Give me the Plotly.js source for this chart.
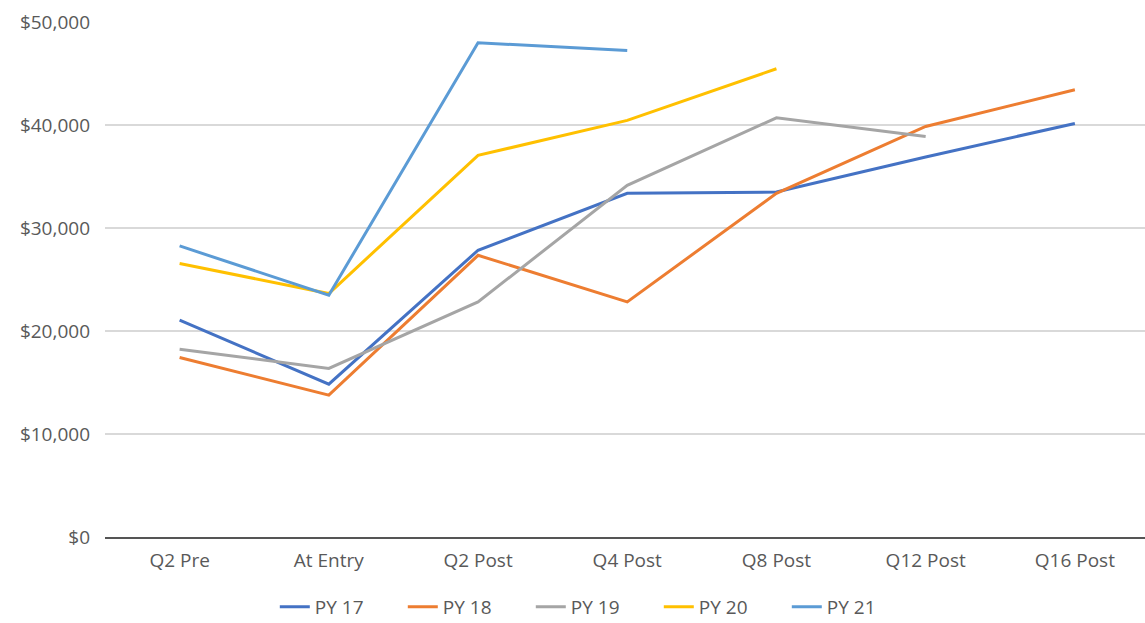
<!DOCTYPE html>
<html>
<head>
<meta charset="utf-8">
<script src="https://cdn.plot.ly/plotly-3.0.1.min.js"></script>
<style>html,body{margin:0;padding:0;background:#fff;}#chart{width:1145px;height:623px;}</style>
</head>
<body>
<div id="chart"></div>
<script>
const categories = ["Q2 Pre", "At Entry", "Q2 Post", "Q4 Post", "Q8 Post", "Q12 Post", "Q16 Post"];
const seriesNames = ["PY 17", "PY 18", "PY 19", "PY 20", "PY 21"];
const py17 = [21050, 14840, 27840, 33370, 33490, 36900, 40150];
const py18 = [17430, 13770, 27350, 22820, 33370, 39860, 43420];
const py19 = [18230, 16360, 22820, 34140, 40700, 38890, null];
const py20 = [26550, 23640, 37050, 40450, 45460, null, null];
const py21 = [28260, 23470, 47980, 47240, null, null, null];
const colors = ["#4472C4", "#ED7D31", "#A5A5A5", "#FFC000", "#5B9BD5"];

const allSeries = [py17, py18, py19, py20, py21];
const traces = allSeries.map((vals, i) => ({
  type: "scatter",
  mode: "lines",
  x: categories,
  y: vals,
  name: seriesNames[i],
  line: {color: colors[i], width: 3},
  connectgaps: false,
  hoverinfo: "skip"
}));

const font = {family: "Open Sans, sans-serif", size: 19, color: "#595959"};

const layout = {
  width: 1145,
  height: 623,
  margin: {l: 105, r: 0, t: 22, b: 86},
  paper_bgcolor: "#ffffff",
  plot_bgcolor: "#ffffff",
  font: font,
  showlegend: true,
  xaxis: {
    type: "category",
    range: [-0.5, 6.47],
    showgrid: false,
    showline: true,
    linecolor: "#555555",
    linewidth: 2,
    ticks: "",
    ticklabelstandoff: 5,
    tickfont: font,
    zeroline: false,
    fixedrange: true
  },
  yaxis: {
    range: [0, 50000],
    dtick: 10000,
    tickprefix: "$",
    tickformat: ",d",
    showgrid: true,
    gridcolor: "#d9d9d9",
    gridwidth: 2,
    zeroline: false,
    showline: false,
    ticks: "",
    ticklabelstandoff: 14,
    tickfont: font,
    fixedrange: true
  },
  legend: {
    orientation: "h",
    xref: "container",
    yref: "container",
    x: 0.24,
    xanchor: "left",
    y: 0.026,
    yanchor: "middle",
    font: font,
    entrywidth: 83,
    entrywidthmode: "pixels",
    itemwidth: 30,
    bgcolor: "rgba(0,0,0,0)"
  }
};

Plotly.newPlot("chart", traces, layout, {displayModeBar: false, staticPlot: true});
</script>
</body>
</html>
